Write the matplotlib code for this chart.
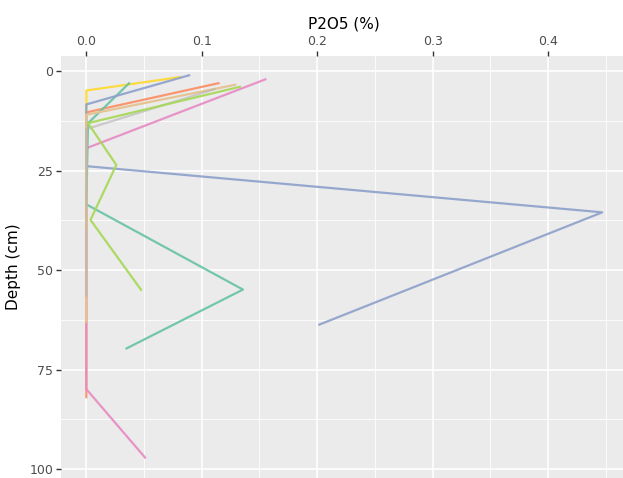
import numpy as np
import matplotlib
matplotlib.use("Agg")
import matplotlib.pyplot as plt

# P2O5 profiles, one path per soil profile (x = P2O5 %, y = depth cm)
orange_x = [0.1155, 0.0, 0.0, 0.0]
orange_y = [3.0, 10.4, 45.0, 82.2]
pink_x = [0.156, 0.0, 0.0, 0.0, 0.0515]
pink_y = [2.0, 19.4, 50.0, 79.9, 97.3]
yellow_x = [0.082, 0.0, 0.0, 0.0]
yellow_y = [1.5, 4.9, 25.0, 40.0]
teal_x = [0.0377, 0.0015, 0.0, 0.1357, 0.034]
teal_y = [2.9, 13.1, 33.5, 54.9, 69.8]
blue_x = [0.090, 0.0, 0.0, 0.447, 0.201]
blue_y = [1.0, 8.4, 23.9, 35.5, 63.8]
tan_x = [0.130, 0.0, 0.0, 0.0]
tan_y = [3.4, 11.0, 35.0, 63.3]
grey_x = [0.112, 0.0, 0.0, 0.0]
grey_y = [4.5, 14.6, 40.0, 56.7]
green_x = [0.134, 0.0015, 0.026, 0.0036, 0.048]
green_y = [3.9, 13.1, 23.6, 37.4, 55.2]

profiles = [
    (orange_x, orange_y, "#FC8D62", 0.9),
    (pink_x, pink_y, "#E78AC3", 0.9),
    (yellow_x, yellow_y, "#FFD92F", 0.9),
    (teal_x, teal_y, "#66C2A5", 0.9),
    (blue_x, blue_y, "#8DA0CB", 0.9),
    (tan_x, tan_y, "#E5C494", 1.0),
    (grey_x, grey_y, "#B3B3B3", 0.6),
    (green_x, green_y, "#A6D854", 0.9),
]

xticks = [0.0, 0.1, 0.2, 0.3, 0.4]
yticks = [0, 25, 50, 75, 100]

W, H = 623, 478
fig = plt.figure(figsize=(W / 100, H / 100), dpi=100)
left, top, right, bottom = 60.7, 55.7, 628, 477.5
ax = fig.add_axes([left / W, 1 - bottom / H, (right - left) / W, (bottom - top) / H])
ax.set_facecolor("#EBEBEB")
for s in ax.spines.values():
    s.set_visible(False)

for x, y, c, a in profiles:
    ax.plot(x, y, color=c, lw=1.6, alpha=a, solid_capstyle="butt", zorder=3)

ax.set_xlim(-0.0222, 0.4693)
ax.set_ylim(102.1, -3.84)

ax.xaxis.tick_top()
ax.xaxis.set_label_position("top")
ax.set_xticks(xticks)
ax.set_xticklabels([f"{v:.1f}" for v in xticks])
ax.set_yticks(yticks)
ax.set_xticks(np.arange(0.05, 0.46, 0.1), minor=True)
ax.set_yticks([12.5, 37.5, 62.5, 87.5], minor=True)

ax.grid(which="major", color="white", lw=1.2, zorder=0)
ax.grid(which="minor", color="white", lw=0.6, zorder=0)
ax.set_axisbelow(True)

ax.tick_params(which="major", length=3.5, width=1.0, color="#333333",
               labelsize=9, labelcolor="#4D4D4D", pad=2)
ax.tick_params(which="minor", length=0)

ax.set_xlabel("P2O5 (%)", fontsize=11, color="black", labelpad=5)
ax.set_ylabel("Depth (cm)", fontsize=11, color="black", labelpad=6)

fig.savefig("out.png", dpi=100)
